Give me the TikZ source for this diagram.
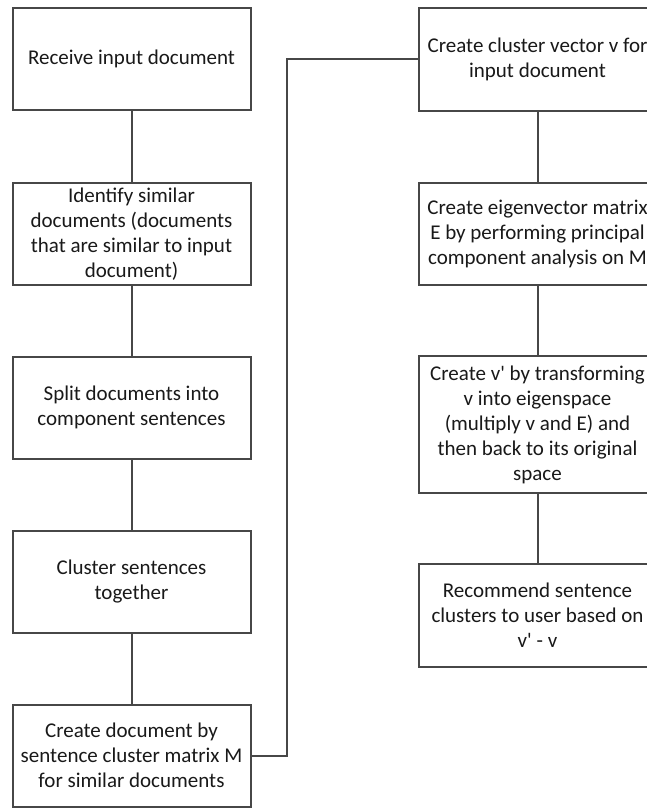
\documentclass[tikz,border=0pt]{standalone}
\usepackage{fontspec}
\setmainfont{Carlito}
\begin{document}
\begin{tikzpicture}[x=1pt,y=1pt,
  box/.style={draw=black!72, line width=2pt, fill=white, rectangle,
    minimum width=238pt, inner sep=2pt, align=center, text=black!90,
    font=\fontsize{21}{25}\selectfont},
  link/.style={draw=black!72, line width=2pt}]
\useasboundingbox (0,0) rectangle (647,-808);
\clip (0,0) rectangle (647,-808);
\fill[white] (0,0) rectangle (647,-808);
% left column
\node[box, minimum height=101.5pt] (L1) at (131.5,-59) {Receive input document};
\node[box, minimum height=101.5pt] (L2) at (131.5,-234) {Identify similar\\documents (documents\\that are similar to input\\document)};
\node[box, minimum height=102pt] (L3) at (131.5,-407.5) {Split documents into\\component sentences};
\node[box, minimum height=102pt] (L4) at (131.5,-582) {Cluster sentences\\together};
\node[box, minimum height=102pt] (L5) at (131.5,-755.5) {Create document by\\sentence cluster matrix M\\for similar documents};
% right column
\node[box, minimum height=102pt] (R1) at (537.5,-59.5) {Create cluster vector v for\\input document};
\node[box, minimum height=101.5pt] (R2) at (537.5,-234) {Create eigenvector matrix\\E by performing principal\\component analysis on M};
\node[box, minimum height=137pt] (R3) at (537.5,-424.5) {Create v\textquotesingle{} by transforming\\v into eigenspace\\(multiply v and E) and\\then back to its original\\space};
\node[box, minimum height=102.5pt] (R4) at (537.5,-615.5) {Recommend sentence\\clusters to user based on\\v\textquotesingle{} - v};
% connectors
\draw[link] (L1.south) -- (L2.north);
\draw[link] (L2.south) -- (L3.north);
\draw[link] (L3.south) -- (L4.north);
\draw[link] (L4.south) -- (L5.north);
\coordinate (C1) at (287,-755.5);
\draw[link] (L5.east) -- (C1) |- (R1.west);
\draw[link] (R1.south) -- (R2.north);
\draw[link] (R2.south) -- (R3.north);
\draw[link] (R3.south) -- (R4.north);
\end{tikzpicture}
\end{document}
